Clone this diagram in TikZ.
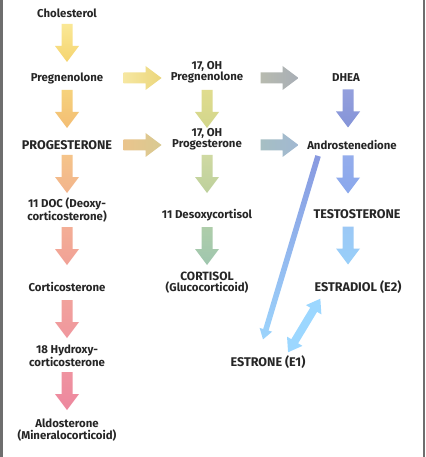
\documentclass[tikz,border=0pt]{standalone}
\usepackage{fontspec}
\setmainfont{Fira Sans}
\usetikzlibrary{calc,arrows.meta}
\definecolor{txtgray}{HTML}{262626}
\definecolor{framegray}{HTML}{6E6E6E}
\definecolor{dblblue}{HTML}{9CD7FF}

\begin{document}
\begin{tikzpicture}[x=1pt,y=-1pt,font=\fontsize{11.4}{11.5}\selectfont\bfseries]
  \tikzstyle{lbl}=[inner sep=0pt,align=center,text=txtgray]
  \tikzstyle{big}=[lbl,font=\fontsize{12.6}{13}\selectfont\bfseries]
  \tikzstyle{dbl_arrow}=[line width=8pt,{Triangle[width=17pt,length=13pt]}-{Triangle[width=17pt,length=13pt]}]
  % block arrows, centred between two nodes, shifted by #1
  \tikzset{
    vblk/.style={to path={($(\tikztostart)!.5!(\tikztotarget)+(-5.5,#1-19)$)
      -- ++(11,0) -- ++(0,22) -- ++(6.5,0) -- ++(-12,16) -- ++(-12,-16) -- ++(6.5,0) -- cycle}},
    vblk/.default=-2.5,
    hblk/.style={to path={($(\tikztostart)!.5!(\tikztotarget)+(#1-19,-5.5)$)
      -- ++(22,0) -- ++(0,-6.5) -- ++(16,12) -- ++(-16,12) -- ++(0,-6.5) -- ++(-22,0) -- cycle}},
    hblk/.default=0,
    % thin slanted arrow as an outline, so that it can be shaded
    thinblk/.style={to path={($(\tikztostart)!2.8pt!90:(\tikztotarget)$)
      -- ($(\tikztotarget)!10pt!(\tikztostart)!2.8pt!-90:(\tikztostart)$)
      -- ($(\tikztotarget)!10pt!(\tikztostart)!6.5pt!-90:(\tikztostart)$)
      -- (\tikztotarget)
      -- ($(\tikztotarget)!10pt!(\tikztostart)!6.5pt!90:(\tikztostart)$)
      -- ($(\tikztotarget)!10pt!(\tikztostart)!2.8pt!90:(\tikztostart)$)
      -- ($(\tikztostart)!2.8pt!-90:(\tikztotarget)$) -- cycle}}
  }

  % page and frame
  \fill[white] (0,0) rectangle (425,457);
  \useasboundingbox (0,0) rectangle (425,457);
  \fill[framegray] (0,0) rectangle (3,457);
  \fill[framegray] (422.5,0) rectangle (425,457);

  % first column
  \node[lbl] (chol) at (67,13) {Cholesterol};
  \node[lbl] (preg) at (67,78) {Pregnenolone};
  \node[big] (prog) at (67,145) {PROGESTERONE};
  \node[lbl] (doc) at (67,210) {11 DOC (Deoxy-\\corticosterone)};
  \node[lbl] (cortico) at (67,287) {Corticosterone};
  \node[lbl] (hydroxy) at (67,356) {18 Hydroxy-\\corticosterone};
  \node[lbl] (aldo) at (67,430) {Aldosterone\\(Mineralocorticoid)};

  % second column
  \node[lbl] (ohpreg) at (207,72) {17, OH\\Pregnenolone};
  \node[lbl] (ohprog) at (207,139) {17, OH\\Progesterone};
  \node[lbl] (desoxy) at (207,215) {11 Desoxycortisol};
  \node[lbl] (cortisol) at (207,282.5) {{\fontsize{12}{12}\selectfont CORTISOL}\\(Glucocorticoid)};

  % third column
  \coordinate (c3) at (348,0);
  \node[lbl] (dhea) at (346,78) {DHEA};
  \node[lbl] (andro) at (352,145) {Androstenedione};
  \node[big] (testo) at (357,214) {TESTOSTERONE};
  \node[big] (estradiol) at (358,287) {ESTRADIOL (E2)};
  \node[big] (estrone) at (268,362) {ESTRONE (E1)};

  % arrows in the first column
  \path[top color={rgb,255:red,250;green,232;blue,150}, bottom color={rgb,255:red,245;green,212;blue,112}] (chol) to[vblk] (preg);
  \path[top color={rgb,255:red,246;green,210;blue,124}, bottom color={rgb,255:red,243;green,189;blue,116}] (preg) to[vblk] (prog);
  \path[top color={rgb,255:red,245;green,196;blue,138}, bottom color={rgb,255:red,242;green,180;blue,140}] (prog) to[vblk=-3.5] (doc);
  \path[top color={rgb,255:red,243;green,174;blue,150}, bottom color={rgb,255:red,241;green,161;blue,150}] (doc) to[vblk] (cortico);
  \path[top color={rgb,255:red,241;green,162;blue,156}, bottom color={rgb,255:red,240;green,151;blue,158}] (cortico) to[vblk] (hydroxy);
  \path[top color={rgb,255:red,239;green,147;blue,160}, bottom color={rgb,255:red,237;green,135;blue,158}] (hydroxy) to[vblk=-2] (aldo);

  % arrows from first to second column
  \path[left color={rgb,255:red,246;green,231;blue,162}, right color={rgb,255:red,235;green,214;blue,124}] (preg) to[hblk=5.5] (preg -| ohpreg);
  \path[left color={rgb,255:red,234;green,196;blue,140}, right color={rgb,255:red,216;green,202;blue,146}] (prog) to[hblk=5.5] (prog -| ohprog);

  % arrows in the second column
  \path[top color={rgb,255:red,224;green,220;blue,142}, bottom color={rgb,255:red,210;green,214;blue,140}] (ohpreg) to[vblk=3.5] (ohprog);
  \path[top color={rgb,255:red,207;green,217;blue,162}, bottom color={rgb,255:red,189;green,208;blue,156}] (ohprog) to[vblk=-3] (desoxy);
  \path[top color={rgb,255:red,174;green,205;blue,170}, bottom color={rgb,255:red,159;green,198;blue,174}] (desoxy) to[vblk=-2.75] (cortisol);

  % arrows from second to third column
  \path[left color={rgb,255:red,206;green,205;blue,166}, right color={rgb,255:red,168;green,174;blue,182}] (dhea -| ohpreg) to[hblk=3] (dhea);
  \path[left color={rgb,255:red,173;green,201;blue,174}, right color={rgb,255:red,161;green,184;blue,210}] (andro -| ohprog) to[hblk] (andro);

  % arrows in the third column
  \path[top color={rgb,255:red,152;green,163;blue,222}, bottom color={rgb,255:red,133;green,148;blue,216}] (dhea -| c3) to[vblk=-3] (andro -| c3);
  \path[top color={rgb,255:red,151;green,174;blue,236}, bottom color={rgb,255:red,138;green,168;blue,236}] (andro -| c3) to[vblk=-5] (testo -| c3);
  \path[top color={rgb,255:red,157;green,198;blue,244}, bottom color={rgb,255:red,152;green,207;blue,249}] (testo -| c3) to[vblk=-5] (estradiol -| c3);

  % estrone
  \path[top color={rgb,255:red,136;green,153;blue,224}, bottom color={rgb,255:red,156;green,212;blue,252}] ($(andro.south west)+(11,6)$) to[thinblk] ($(estrone.north)+(-5,-16)$);
  \draw[dbl_arrow, dblblue] ($(estradiol.south west)+(6,5)$) -- ($(estrone.north)+(20,-3)$);

\end{tikzpicture}
\end{document}
